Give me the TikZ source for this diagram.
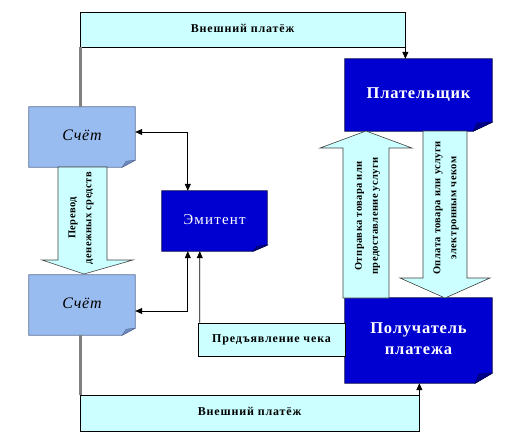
\documentclass[tikz,border=0pt]{standalone}
\usepackage{fontspec}
\setmainfont{Liberation Serif}
\newfontfamily\lbl[LetterSpace=7]{Liberation Serif}
\newfontfamily\rtl[LetterSpace=4]{Liberation Serif}
\newfontfamily\emf[LetterSpace=8]{Liberation Serif}
\newfontfamily\ttl[LetterSpace=5]{Liberation Serif}
\usetikzlibrary{arrows.meta,calc,backgrounds}
\definecolor{boxblue}{RGB}{0,0,208}
\definecolor{flapblue}{RGB}{0,0,140}
\definecolor{acctblue}{RGB}{153,188,240}
\definecolor{acctedge}{RGB}{90,110,150}
\definecolor{flapacct}{RGB}{110,140,200}
\definecolor{palecyan}{RGB}{204,255,255}
\newcommand\myfoldbox[6]{%
  \filldraw[fill=#4,draw=#5,line width=0.7pt]
    (#1.north west) -- (#1.north east) -- ([yshift=#3pt]#1.south east)
    -- ([xshift=-#2pt]#1.south east) -- (#1.south west) -- cycle;
  \filldraw[fill=#6,draw=#5,line width=0.5pt]
    ([yshift=#3pt]#1.south east) -- ([xshift=-#2pt]#1.south east)
    -- ([xshift=-#2pt+4pt,yshift=#3pt-1pt]#1.south east) -- cycle;
}
\begin{document}
\begin{tikzpicture}[x=1pt,y=-1pt,
  box/.style={inner sep=0pt,align=center},
  labelbox/.style={box,draw=black,fill=palecyan,line width=0.7pt,font=\lbl\bfseries\fontsize{12}{14}\selectfont},
  bluetext/.style={box,text=white,font=\ttl\bfseries\fontsize{16.5}{21}\selectfont},
  arr/.style={draw=black,line width=0.8pt,-{Triangle[length=7pt,width=6pt]}},
  arrb/.style={draw=black,line width=0.8pt,{Triangle[length=7pt,width=6pt]}-{Triangle[length=7pt,width=6pt]}},
  grayline/.style={draw=gray,line width=2.6pt},
  blockarrow/.style={fill=palecyan,draw=black!75,line width=0.6pt},
  rottext/.style={box,rotate=90,font=\rtl\bfseries\fontsize{10.5}{16}\selectfont}
]
\useasboundingbox (0,0) rectangle (531,445);

% boxes (text nodes)
\node[labelbox,minimum width=325pt,minimum height=35pt] (ext1) at (242.5,29.5) {\raisebox{3pt}{Внешний платёж}};
\node[labelbox,minimum width=339pt,minimum height=36pt] (ext2) at (249.5,413) {\raisebox{4pt}{Внешний платёж}};
\node[labelbox,minimum width=147pt,minimum height=33pt] (check) at (271.5,339.5) {Предъявление чека};

\node[box,minimum width=147pt,minimum height=72pt] (pay) at (418.5,95) {};
\node[bluetext] at (pay) {Плательщик};
\node[box,minimum width=147pt,minimum height=85pt] (recv) at (418.5,340.5) {};
\node[bluetext] at ([yshift=2pt]recv.center) {Получатель\\платежа};
\node[box,minimum width=106pt,minimum height=60pt] (acc1) at (82,137) {};
\node[box,font=\ttl\itshape\fontsize{16}{19}\selectfont] at ([yshift=2pt]acc1.center) {Счёт};
\node[box,minimum width=106pt,minimum height=60pt] (acc2) at (82,305) {};
\node[box,font=\ttl\itshape\fontsize{16}{19}\selectfont] at ([yshift=2pt]acc2.center) {Счёт};
\node[box,minimum width=105pt,minimum height=60pt] (emit) at (214.5,221) {};
\node[box,text=white,font=\emf\fontsize{15}{18}\selectfont] at ([yshift=1pt]emit.center) {Эмитент};

\begin{pgfonlayer}{background}
  \myfoldbox{pay}{19}{9}{boxblue}{black!70!blue}{flapblue}
  \myfoldbox{recv}{17}{10}{boxblue}{black!70!blue}{flapblue}
  \myfoldbox{emit}{14}{6}{boxblue}{black!70!blue}{flapblue}
  \myfoldbox{acc1}{13}{7}{acctblue}{acctedge}{flapacct}
  \myfoldbox{acc2}{13}{7}{acctblue}{acctedge}{flapacct}
\end{pgfonlayer}

% block arrows
\filldraw[blockarrow] (58,167) -- (107,167) -- (107,260) -- (133,260) -- (84,274)
  -- (42,260) -- (58,260) -- cycle;
\filldraw[blockarrow] (343,298) -- (343,148) -- (320,148) -- (366,131) -- (412,148)
  -- (389,148) -- (389,298) -- cycle;
\filldraw[blockarrow] (423,131) -- (467,131) -- (467,278) -- (490,278) -- (445,298)
  -- (400,278) -- (423,278) -- cycle;

\node[rottext] (tTransfer) at (81,218) {Перевод\\денежных средств};
\node[rottext] (tShip) at (367.5,216) {Отправка товара или\\предоставление услуги};
\node[rottext] (tPay) at (446,208) {Оплата товара или услуги\\электронным чеком};

% connectors
\draw[grayline] ([xshift=1pt]ext1.south west) -- ([xshift=1pt]ext1.south west |- acc1.north);
\draw[grayline] ([xshift=1pt]ext2.north west |- acc2.south) -- ([xshift=1pt]ext2.north west);
\draw[arr] (ext1.south east) -- (ext1.south east |- pay.north);
\draw[arr] (ext2.north east) -- (ext2.north east |- recv.south);
\coordinate (e1) at ([xshift=26pt]emit.north west);
\coordinate (e2) at ([xshift=26pt]emit.south west);
\coordinate (e3) at ([xshift=38pt]emit.south west);
\draw[arrb] ([yshift=5pt]acc1.east) -| (e1);
\draw[arrb] ([yshift=-6pt]acc2.east) -| (e2);
\draw[arr] ([xshift=2pt]check.north west) -- (e3);
\end{tikzpicture}
\end{document}
